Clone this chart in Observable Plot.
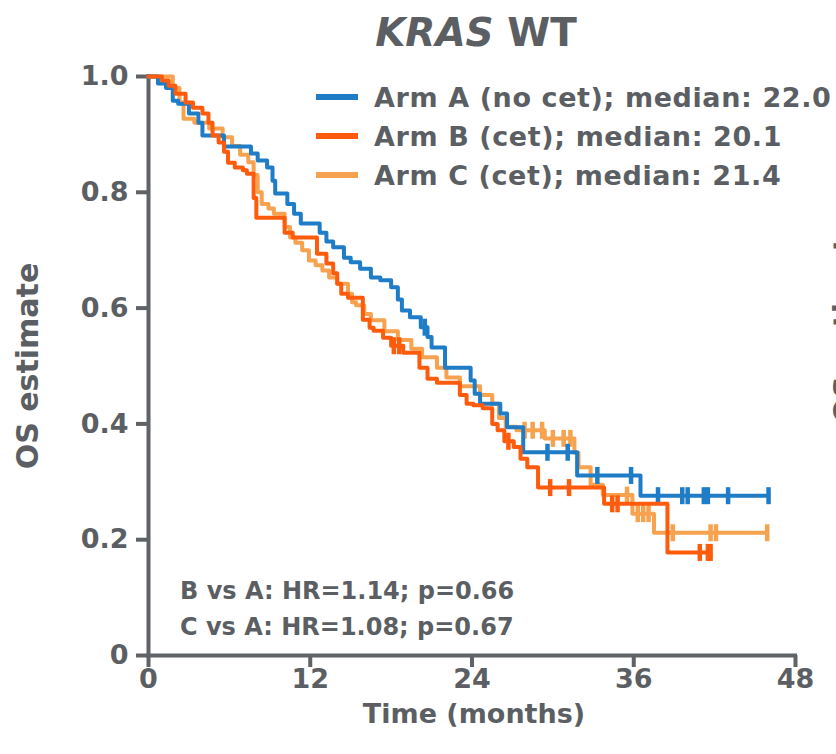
<!DOCTYPE html>
<html><head><meta charset="utf-8">
<script src="https://cdn.jsdelivr.net/npm/d3@7"></script>
<script src="https://cdn.jsdelivr.net/npm/@observablehq/plot@0.6"></script>
<style>
body{margin:0;background:#fff;}
#wrap{position:relative;width:836px;height:754px;overflow:hidden;font-family:"DejaVu Sans",sans-serif;font-weight:bold;color:#5b5f63;}
.abs{position:absolute;white-space:nowrap;line-height:1;}
</style></head><body><div id="wrap"></div>
<script>
// ---- data ----
const armKeys = ["A", "B", "C"];
const armLabels = ["Arm A (no cet); median: 22.0", "Arm B (cet); median: 20.1", "Arm C (cet); median: 21.4"];
const armColors = ["#1f7cc6", "#ff5b0d", "#f7a24e"];

const timesA = [0, 0.7, 1.3, 1.8, 2.2, 3.0, 3.7, 4.0, 5.6, 7.6, 8.1, 8.8, 9.2, 9.4, 10.3, 10.8, 11.3, 12.7, 13.2, 13.7, 14.5, 15.0, 15.7, 16.5, 17.2, 18.0, 18.5, 18.8, 19.4, 20.2, 20.7, 21.0, 22.0, 23.9, 24.2, 24.6, 26.1, 26.6, 27.8, 31.8, 36.5, 46.0];
const survA  = [1.0, 0.988, 0.98, 0.958, 0.953, 0.936, 0.92, 0.898, 0.879, 0.867, 0.855, 0.843, 0.82, 0.798, 0.78, 0.763, 0.746, 0.73, 0.715, 0.705, 0.687, 0.679, 0.668, 0.653, 0.648, 0.636, 0.615, 0.596, 0.584, 0.567, 0.55, 0.532, 0.497, 0.475, 0.452, 0.435, 0.418, 0.394, 0.351, 0.311, 0.276, 0.276];
const censorA = [20.5, 29.6, 31.1, 33.3, 35.8, 37.8, 39.6, 40.0, 41.2, 41.5, 43.0, 46.0];

const timesB = [0, 1.0, 1.5, 2.0, 2.75, 3.3, 4.0, 4.45, 4.75, 5.2, 5.6, 5.9, 6.4, 7.0, 7.3, 7.8, 8.0, 10.1, 10.7, 12.5, 13.2, 13.7, 14.0, 14.3, 14.8, 15.9, 16.4, 16.7, 17.4, 18.0, 18.9, 20.1, 20.7, 21.4, 23.1, 23.6, 24.1, 24.8, 25.5, 25.9, 26.4, 27.1, 27.6, 28.1, 28.9, 33.8, 38.5, 41.7];
const survB  = [1.0, 0.993, 0.984, 0.97, 0.955, 0.946, 0.936, 0.92, 0.898, 0.886, 0.87, 0.851, 0.843, 0.838, 0.832, 0.79, 0.756, 0.73, 0.722, 0.694, 0.677, 0.66, 0.642, 0.625, 0.618, 0.58, 0.566, 0.561, 0.549, 0.535, 0.523, 0.497, 0.478, 0.471, 0.45, 0.435, 0.432, 0.427, 0.40, 0.389, 0.37, 0.36, 0.34, 0.325, 0.29, 0.262, 0.178, 0.178];
const censorB = [18.2, 18.6, 26.7, 29.8, 31.2, 34.4, 34.8, 40.9, 41.5, 41.7];

const timesC = [0, 1.8, 2.3, 2.6, 3.4, 4.5, 5.5, 6.2, 6.8, 7.4, 7.8, 8.1, 8.4, 8.9, 9.3, 10.1, 10.5, 10.9, 11.4, 11.9, 12.4, 12.9, 13.4, 14.0, 14.8, 15.1, 15.4, 16.0, 16.5, 17.5, 18.5, 19.5, 20.3, 21.4, 22.1, 23.1, 24.6, 25.5, 26.0, 26.5, 27.3, 29.4, 31.6, 31.9, 32.8, 33.7, 35.9, 37.5, 45.9];
const survC  = [1.0, 0.98, 0.955, 0.927, 0.92, 0.91, 0.895, 0.88, 0.865, 0.852, 0.83, 0.80, 0.78, 0.772, 0.763, 0.74, 0.722, 0.713, 0.70, 0.682, 0.674, 0.665, 0.653, 0.642, 0.625, 0.61, 0.605, 0.59, 0.579, 0.56, 0.545, 0.53, 0.515, 0.497, 0.48, 0.465, 0.45, 0.435, 0.41, 0.395, 0.389, 0.375, 0.35, 0.325, 0.295, 0.277, 0.245, 0.212, 0.212];
const censorC = [27.9, 28.5, 29.2, 30.0, 30.8, 31.3, 35.5, 36.3, 36.7, 37.1, 38.9, 41.7, 42.1, 45.9];

const xTicks = [0, 12, 24, 36, 48];
const yTicks = [0, 0.2, 0.4, 0.6, 0.8, 1.0];
const annotations = ["B vs A: HR=1.14; p=0.66", "C vs A: HR=1.08; p=0.67"];
const titleItalic = "KRAS";
const titleRest = " WT";
const xLabel = "Time (months)";
const yLabel = "OS estimate";

// ---- build tables ----
const arms = {
  A: {times: timesA, surv: survA, cens: censorA},
  B: {times: timesB, surv: survB, cens: censorB},
  C: {times: timesC, surv: survC, cens: censorC}
};
function stepAt(times, surv, t) {
  let v = surv[0];
  for (let i = 0; i < times.length; i++) if (times[i] <= t) v = surv[i];
  return v;
}
function curveRows(k) { const a = arms[k]; return a.times.map((t, i) => ({arm: k, t, s: a.surv[i]})); }
function censorRows(k) { const a = arms[k]; return a.cens.map(t => ({arm: k, t, s: stepAt(a.times, a.surv, t)})); }

const axisGrey = "#5f6367";
const textGrey = "#5b5f63";
const tickSymbol = {draw(ctx) { ctx.moveTo(0, -8.5); ctx.lineTo(0, 8.5); }};
const drawOrder = ["C", "A", "B"];

const marks = [
  Plot.axisX({ticks: xTicks, tickSize: 12, tickPadding: 1, fontSize: 27, strokeWidth: 4, color: axisGrey, fill: textGrey, label: null}),
  Plot.axisY({ticks: yTicks, tickSize: 12, tickPadding: 8, fontSize: 27, strokeWidth: 4, color: axisGrey, fill: textGrey, label: null,
              tickFormat: d => d === 0 ? "0" : d.toFixed(1)}),
  Plot.ruleY([0], {x1: 0, x2: 48, stroke: axisGrey, strokeWidth: 4, strokeLinecap: "square"}),
  Plot.ruleX([0], {y1: 0, y2: 1, stroke: axisGrey, strokeWidth: 4, strokeLinecap: "square"})
];
for (const k of drawOrder) {
  marks.push(Plot.line(curveRows(k), {x: "t", y: "s", stroke: "arm", curve: "step-after", strokeWidth: 4}));
  marks.push(Plot.dot(censorRows(k), {x: "t", y: "s", stroke: "arm", fill: "none", symbol: tickSymbol, strokeWidth: 4.5}));
}

const chart = Plot.plot({
  width: 836, height: 754,
  marginLeft: 148, marginRight: 41, marginTop: 76, marginBottom: 99,
  x: {domain: [0, 48]},
  y: {domain: [0, 1]},
  color: {domain: armKeys, range: armColors},
  style: {fontFamily: "'DejaVu Sans', sans-serif", fontWeight: "bold", background: "transparent", overflow: "visible"},
  marks
});
const wrap = document.getElementById("wrap");
chart.style.position = "absolute";
chart.style.left = "0px";
chart.style.top = "0px";
wrap.appendChild(chart);

// ---- overlays: title, legend, annotations, axis labels ----
function addDiv(html, css) {
  const d = document.createElement("div");
  d.className = "abs";
  d.innerHTML = html;
  Object.assign(d.style, css);
  wrap.appendChild(d);
  return d;
}
addDiv(`<i>${titleItalic}</i>${titleRest}`, {left: "476px", top: "32px", fontSize: "39px", transform: "translate(-50%,-50%)"});

armKeys.forEach((k, i) => {
  const cy = 97 + i * 39;
  addDiv("", {left: "316px", top: (cy - 3) + "px", width: "42px", height: "6px", background: armColors[i]});
  addDiv(armLabels[i], {left: "374px", top: cy + "px", fontSize: "27px", letterSpacing: "0.6px", transform: "translateY(-50%)"});
});

annotations.forEach((t, i) => {
  addDiv(t, {left: "180px", top: (591 + i * 36) + "px", fontSize: "24px", transform: "translateY(-50%)"});
});

addDiv(xLabel, {left: "474px", top: "713px", fontSize: "27px", transform: "translate(-50%,-50%)"});
addDiv(yLabel, {left: "28px", top: "366px", fontSize: "30px", transform: "translate(-50%,-50%) rotate(-90deg)"});
addDiv(yLabel, {left: "845px", top: "320px", fontSize: "30px", transform: "translate(-50%,-50%) rotate(-90deg)"});
</script>
</body></html>
